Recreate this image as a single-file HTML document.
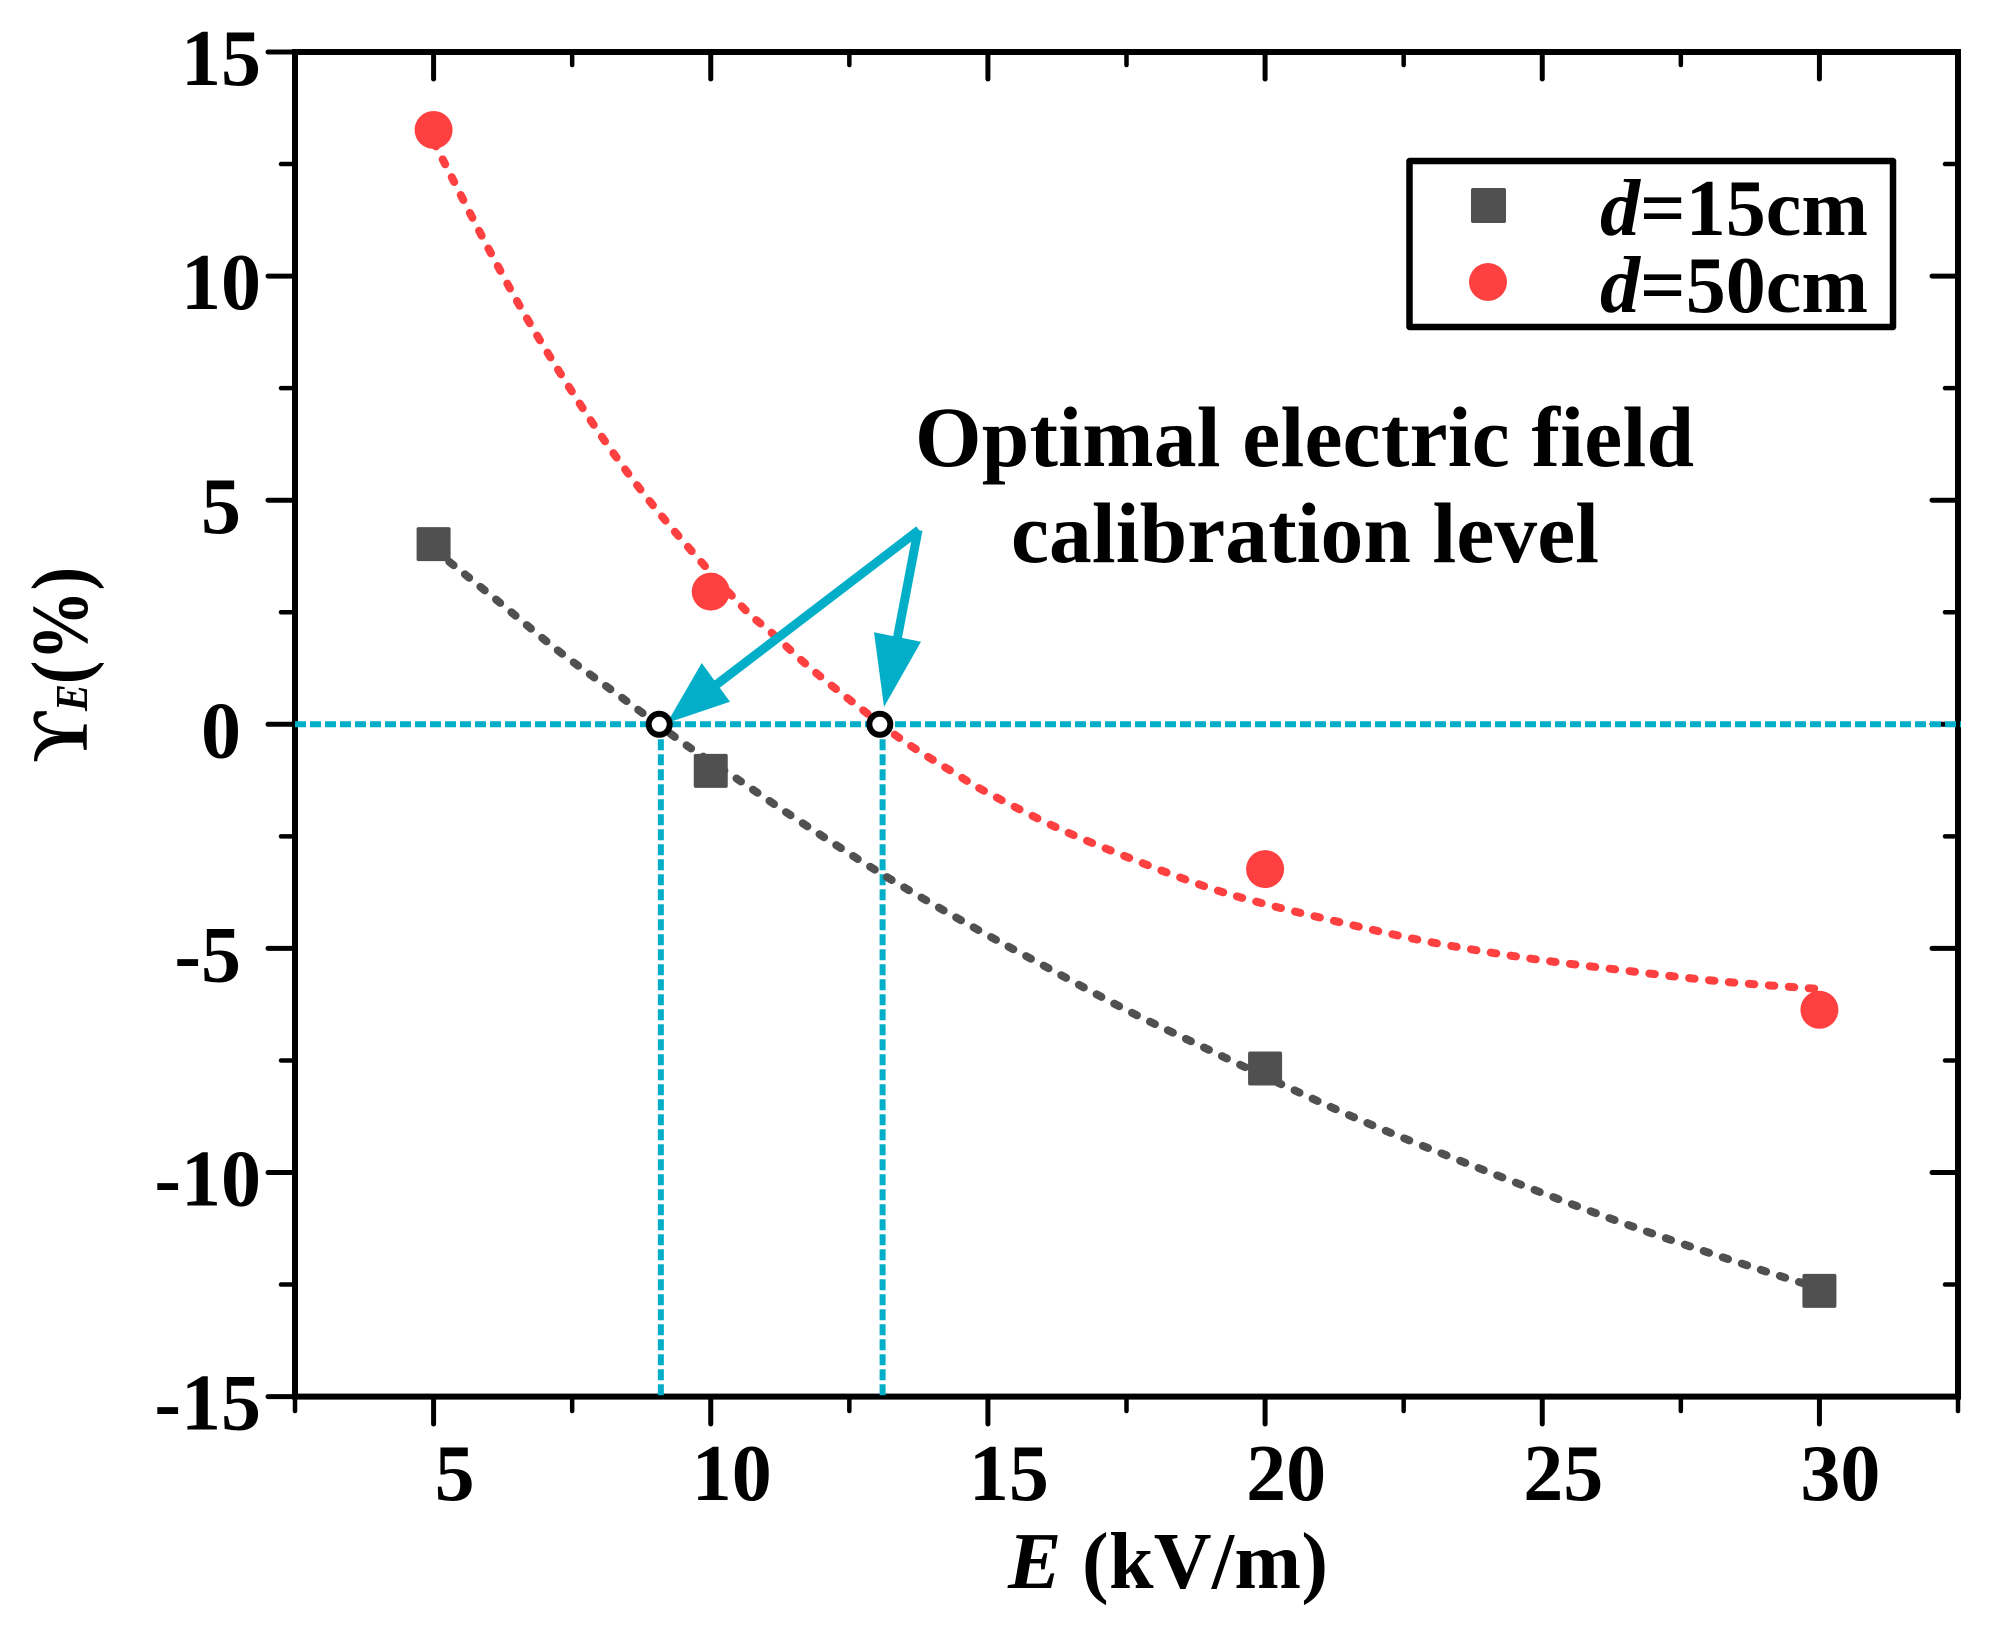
<!DOCTYPE html>
<html>
<head>
<meta charset="utf-8">
<title>Optimal electric field calibration level chart</title>
<style>
html,body{margin:0;padding:0;background:#fff;width:2007px;height:1625px;overflow:hidden}
svg{display:block}
text{font-family:"Liberation Serif","DejaVu Serif",serif;font-weight:bold;fill:#000}
</style>
</head>
<body>
<svg id="chart" xmlns="http://www.w3.org/2000/svg" width="2007" height="1625" viewBox="0 0 2007 1625">
  <rect x="0" y="0" width="2007" height="1625" fill="#fff"/>
  <rect x="295" y="52" width="1663" height="1344.6" fill="none" stroke="#000" stroke-width="6"/>
  <g id="ticks"></g>
  <g id="guides"></g>
  <g id="fits"></g>
  <g id="arrows">
    <line x1="919" y1="530" x2="712" y2="688" stroke="#03afc8" stroke-width="9"/>
    <polygon points="667,723 701.7,663 730,701.7" fill="#03afc8"/>
    <line x1="918" y1="530" x2="897" y2="640" stroke="#03afc8" stroke-width="9"/>
    <polygon points="884,707 874,632.3 921,641.7" fill="#03afc8"/>
  </g>
  <g id="markers"></g>
  <g id="crossings"></g>
  <g id="labels"></g>
  <text x="1008" y="1588" font-size="80" textLength="320"><tspan font-style="italic">E</tspan> (kV/m)</text>
  <text transform="translate(87,762) rotate(-90) scale(.88,1)" font-size="80">ϒ<tspan font-size="46" font-style="italic">E</tspan>(%)</text>
  <g>
    <rect x="1409.5" y="161" width="483.5" height="166" fill="#fff" stroke="#000" stroke-width="6.5" stroke-linejoin="round"/>
    <rect x="1471" y="188" width="35" height="35" rx="2" fill="#505050"/>
    <circle cx="1488" cy="282" r="19" fill="#ff4040"/>
    <text x="1600" y="235" font-size="80" textLength="268"><tspan font-style="italic">d</tspan>=15cm</text>
    <text x="1600" y="312" font-size="80" textLength="268"><tspan font-style="italic">d</tspan>=50cm</text>
  </g>
  <text x="915" y="466" font-size="85.5" textLength="779">Optimal electric field</text>
  <text x="1011" y="562" font-size="85.5" textLength="588">calibration level</text>
</svg>
<script>
const categories = [5, 10, 20, 30];
const seriesD15 = [4.02, -1.04, -7.68, -12.64];
const seriesD50 = [13.26, 2.96, -3.23, -6.37];
const fitD15X = [5, 5.31, 6.16, 7.24, 8.37, 9.53, 10.43, 11.6, 13.1, 14.64, 15.88, 17.43, 18.71, 20.31, 21.87, 23.85, 25.82, 27.5, 29.52, 30];
const fitD15Y = [3.9, 3.6, 2.75, 1.65, 0.62, -0.44, -1.18, -2.16, -3.35, -4.46, -5.3, -6.33, -7.1, -8.04, -8.91, -9.9, -10.84, -11.58, -12.4, -12.55];
const fitD50X = [5, 5.15, 6, 6.85, 8, 9.1, 10.5, 11.1, 11.84, 12.7, 13.5, 14.4, 15, 16.27, 17.59, 18.9, 19.94, 21.33, 22.9, 24.64, 26.4, 28.17, 29.93];
const fitD50Y = [13.0, 12.64, 10.59, 8.71, 6.48, 4.67, 2.71, 2.04, 1.21, 0.36, -0.39, -1.09, -1.53, -2.32, -3.0, -3.61, -3.99, -4.41, -4.84, -5.2, -5.48, -5.73, -5.9];
const crossingX = [9.07, 13.05];
const guideX = [9.1, 13.1];
const guideY = [0];
const xMajorTicks = [5, 10, 15, 20, 25, 30];
const xMinorTicks = [2.5, 7.5, 12.5, 17.5, 22.5, 27.5, 32.5];
const yMajorTicks = [-15, -10, -5, 0, 5, 10, 15];
const yMinorTicks = [-12.5, -7.5, -2.5, 2.5, 7.5, 12.5];

const NS = 'http://www.w3.org/2000/svg';
const L = 295, R = 1958, T = 52, B = 1396.6;
const X = v => L + (v - 2.5) / 30 * (R - L);
const Y = v => B - (v + 15) / 30 * (B - T);
const mk = (tag, parent, attrs) => {
  const el = document.createElementNS(NS, tag);
  for (const k in attrs) el.setAttribute(k, attrs[k]);
  parent.appendChild(el);
  return el;
};
const smooth = (xs, ys) => {
  const p = xs.map((x, i) => [X(x), Y(ys[i])]);
  let d = 'M' + p[0][0] + ' ' + p[0][1];
  for (let i = 0; i < p.length - 1; i++) {
    const a = p[Math.max(i - 1, 0)], b = p[i], c = p[i + 1], e = p[Math.min(i + 2, p.length - 1)];
    const c1x = b[0] + (c[0] - a[0]) / 6, c1y = b[1] + (c[1] - a[1]) / 6;
    const c2x = c[0] - (e[0] - b[0]) / 6, c2y = c[1] - (e[1] - b[1]) / 6;
    d += 'C' + c1x + ' ' + c1y + ' ' + c2x + ' ' + c2y + ' ' + c[0] + ' ' + c[1];
  }
  return d;
};

const guides = document.getElementById('guides');
guideY.forEach(v => {
  const el = mk('line', guides, {x1: L, x2: R + 3, y1: Y(v), y2: Y(v), stroke: '#03afc8', 'stroke-width': 6, 'stroke-dasharray': '11 4'});
  
  
});
guideX.forEach(v => {
  const el = mk('line', guides, {x1: X(v), x2: X(v), y1: Y(0), y2: B, stroke: '#03afc8', 'stroke-width': 6, 'stroke-dasharray': '11 4'});
  
  
});

const fits = document.getElementById('fits');
const fitGray = mk('path', fits, {d: smooth(fitD15X, fitD15Y), fill: 'none', stroke: '#505050', 'stroke-width': 8, 'stroke-linecap': 'round', 'stroke-dasharray': '5.5 14.5'});


const fitRed = mk('path', fits, {d: smooth(fitD50X, fitD50Y), fill: 'none', stroke: '#ff4040', 'stroke-width': 8, 'stroke-linecap': 'round', 'stroke-dasharray': '5.5 14.5'});



const markers = document.getElementById('markers');
categories.forEach((c, i) => {
  const s = mk('rect', markers, {x: X(c) - 17, y: Y(seriesD15[i]) - 17, width: 34, height: 34, rx: 2, fill: '#505050'});
  
  
  const o = mk('circle', markers, {cx: X(c), cy: Y(seriesD50[i]), r: 19, fill: '#ff4040'});
  
  
});

const crossings = document.getElementById('crossings');
crossingX.forEach(c => {
  const el = mk('circle', crossings, {cx: X(c), cy: Y(0), r: 10.5, fill: '#fff', stroke: '#000', 'stroke-width': 6});
  
  
});

const ticks = document.getElementById('ticks');
const tick = (x1, y1, x2, y2, w, name) => {
  const el = mk('line', ticks, {x1: x1, y1: y1, x2: x2, y2: y2, stroke: '#000', 'stroke-width': w, 'stroke-linecap': 'round'});
  
  
};
xMajorTicks.forEach(v => {
  tick(X(v), B, X(v), 1424, 5, 'x-major-tick');
  tick(X(v), T, X(v), 79, 5, 'x-major-tick-top');
});
xMinorTicks.forEach(v => {
  tick(X(v), B, X(v), 1411, 4.5, 'x-minor-tick');
  if (v > 2.5 && v < 32.5) tick(X(v), T, X(v), 65, 4.5, 'x-minor-tick-top');
});
yMajorTicks.forEach(v => {
  tick(L, Y(v), 268, Y(v), 5, 'y-major-tick');
  if (v > -15 && v < 15) tick(R, Y(v), 1932, Y(v), 5, 'y-major-tick-right');
});
yMinorTicks.forEach(v => {
  tick(L, Y(v), 281, Y(v), 4.5, 'y-minor-tick');
  tick(R, Y(v), 1945, Y(v), 4.5, 'y-minor-tick-right');
});

const labels = document.getElementById('labels');
xMajorTicks.forEach(v => {
  const t = mk('text', labels, {x: X(v) + 21, y: 1500, 'font-size': 80, 'text-anchor': 'middle'});
  t.textContent = String(v);
  
  
});
yMajorTicks.forEach(v => {
  const oneDigit = Math.abs(v) < 10;
  const t = mk('text', labels, {x: oneDigit ? 241 : 261, y: Y(v) + 33, 'font-size': 80, 'text-anchor': 'end'});
  t.textContent = String(v);
  
  
});
</script>
</body>
</html>
